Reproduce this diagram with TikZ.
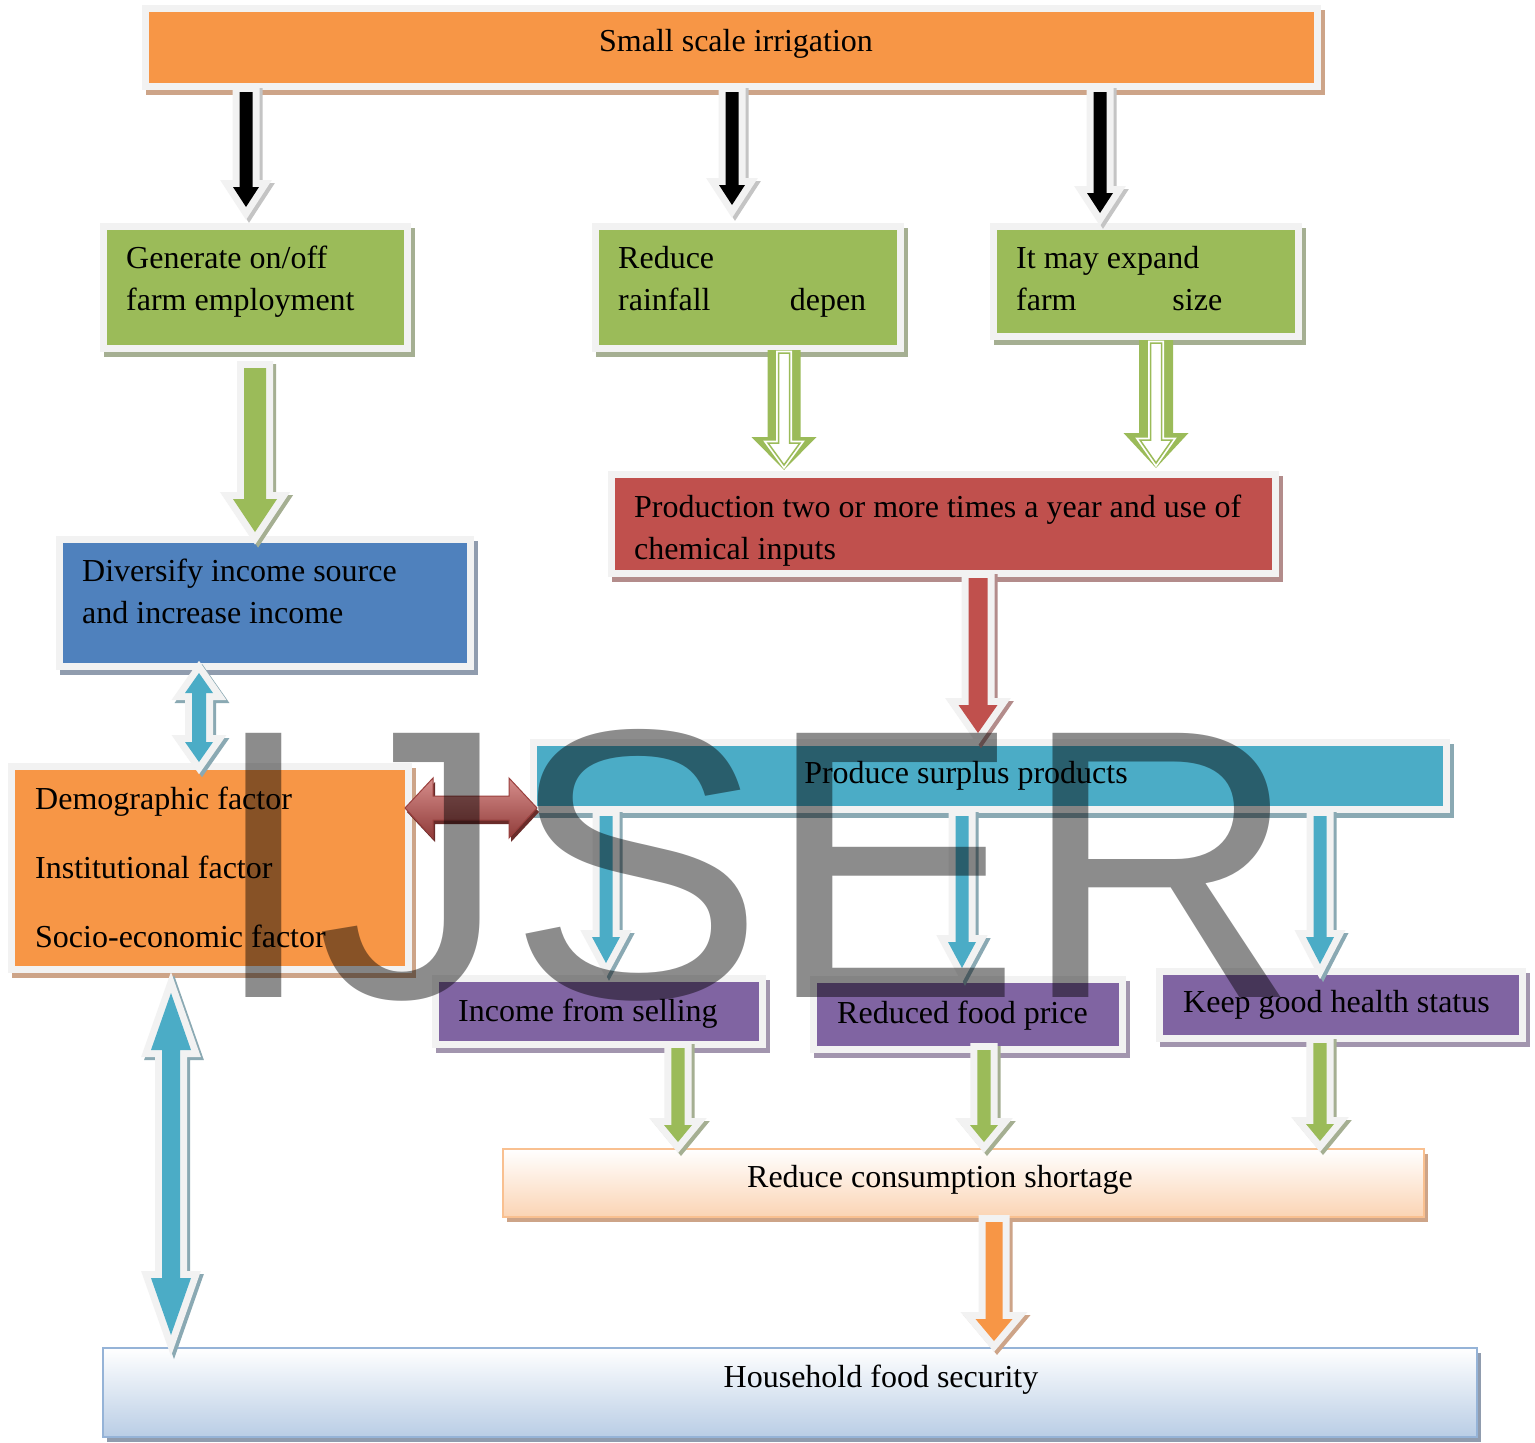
\documentclass[tikz,border=0pt]{standalone}
\usepackage{fontspec}
\setmainfont{Liberation Serif}
\newfontfamily\wmfont{Liberation Sans}
\usetikzlibrary{calc}

\definecolor{cOrange}{HTML}{F79646}
\definecolor{cGreen}{HTML}{9BBB59}
\definecolor{cBlue}{HTML}{4F81BD}
\definecolor{cRed}{HTML}{C0504D}
\definecolor{cAqua}{HTML}{4BACC6}
\definecolor{cPurple}{HTML}{8064A2}
\definecolor{cEdge}{HTML}{F2F2F2}
\definecolor{sOrange}{HTML}{CDA488}
\definecolor{sGreen}{HTML}{A5AF92}
\definecolor{sBlue}{HTML}{909CAE}
\definecolor{sRed}{HTML}{B38C8B}
\definecolor{sAqua}{HTML}{8AA9B3}
\definecolor{sPurple}{HTML}{A295AE}
\definecolor{sBlack}{HTML}{C4C4C4}
\definecolor{peach}{HTML}{FBD4B4}
\definecolor{peachline}{HTML}{F9C090}
\definecolor{sky}{HTML}{B9CDE5}
\definecolor{skyline}{HTML}{95B3D7}
\definecolor{wm}{HTML}{8C8C8C}

\newcommand\blkdown[3][]{%
  \path[#1] let \p1=#2, \p2=#3 in
    (\x1-\arrw,\y1) -- (\x1-\arrw,\y2+\arrl) -- (\x1-\arrh,\y2+\arrl) -- (\x1,\y2)
    -- (\x1+\arrh,\y2+\arrl) -- (\x1+\arrw,\y2+\arrl) -- (\x1+\arrw,\y1) -- cycle;}
\newcommand\blkupdown[3][]{%
  \path[#1] let \p1=#2, \p2=#3 in
    (\x1,\y1) -- (\x1+\arrh,\y1-\arrl) -- (\x1+\arrw,\y1-\arrl) -- (\x1+\arrw,\y2+\arrl)
    -- (\x1+\arrh,\y2+\arrl) -- (\x1,\y2) -- (\x1-\arrh,\y2+\arrl) -- (\x1-\arrw,\y2+\arrl)
    -- (\x1-\arrw,\y1-\arrl) -- (\x1-\arrh,\y1-\arrl) -- cycle;}
\newcommand\blkleftright[3][]{%
  \path[#1] let \p1=#2, \p2=#3 in
    (\x1,\y1) -- (\x1+\arrl,\y1+\arrh) -- (\x1+\arrl,\y1+\arrw) -- (\x2-\arrl,\y1+\arrw)
    -- (\x2-\arrl,\y1+\arrh) -- (\x2,\y1) -- (\x2-\arrl,\y1-\arrh) -- (\x2-\arrl,\y1-\arrw)
    -- (\x1+\arrl,\y1-\arrw) -- (\x1+\arrl,\y1-\arrh) -- cycle;}

\tikzset{
  arrw/.store in=\arrw, arrh/.store in=\arrh, arrl/.store in=\arrl,
  tbox/.style 2 args={rectangle, inner sep=0pt, outer sep=0pt, anchor=north west, fill=#1,
    preaction={fill=#2, draw=#2, line width=14pt, transform canvas={shift={(4pt,-5pt)}}},
    preaction={draw=cEdge, line width=14pt}},
  gbox/.style n args={3}{rectangle, inner sep=0pt, outer sep=0pt, anchor=north west,
    top color=white, bottom color=#1, draw=#2, line width=2.5pt,
    preaction={fill=#3, transform canvas={shift={(4pt,-5pt)}}}},
  barrow/.style 2 args={fill=#1, line join=miter,
    preaction={draw=#2, fill=#2, line width=14pt, line join=miter, transform canvas={shift={(3pt,-3pt)}}},
    preaction={draw=cEdge, line width=14pt, line join=miter}},
  harrowout/.style={fill=cGreen, line join=miter},
  harrowin/.style={fill=white, draw=cGreen, line width=1.5pt, line join=miter,
    preaction={draw=white, line width=5pt, line join=miter}},
  rarrow/.style={top color=cRed!65!white, bottom color=cRed!75!black, draw=cRed!80!black, line width=1pt, line join=miter,
    preaction={fill=cRed!55!black, transform canvas={shift={(2pt,-4pt)}}}},
  txt/.style={anchor=north west, inner sep=0pt, align=left, font=\fontsize{32}{42}\selectfont},
  ltxt/.style={anchor=base west, inner sep=0pt, font=\fontsize{32}{42}\selectfont},
  ctxt/.style={anchor=base, inner sep=0pt, font=\fontsize{32}{42}\selectfont},
}

\begin{document}
\begin{tikzpicture}[x=1pt,y=1pt]
\useasboundingbox (0,0) rectangle (1535,-1443);
\fill[white] (0,0) rectangle (1535,-1443);

% boxes
\node[tbox={cOrange}{sOrange}, minimum width=1165pt, minimum height=71pt] (irr) at (149,-12) {};
\node[tbox={cGreen}{sGreen}, minimum width=297pt, minimum height=115pt] (gen) at (107,-230) {};
\node[tbox={cGreen}{sGreen}, minimum width=298pt, minimum height=115pt] (red) at (599,-230) {};
\node[tbox={cGreen}{sGreen}, minimum width=298pt, minimum height=103pt] (exp) at (997,-230) {};
\node[tbox={cBlue}{sBlue}, minimum width=404pt, minimum height=120pt] (div) at (63,-543) {};
\node[tbox={cRed}{sRed}, minimum width=657pt, minimum height=92pt] (prod) at (615,-478) {};
\node[tbox={cOrange}{sOrange}, minimum width=390pt, minimum height=196pt] (dem) at (15,-770) {};
\node[tbox={cAqua}{sAqua}, minimum width=906pt, minimum height=60pt] (sur) at (537,-746) {};
\node[tbox={cPurple}{sPurple}, minimum width=320pt, minimum height=59pt] (inc) at (439,-982) {};
\node[tbox={cPurple}{sPurple}, minimum width=302pt, minimum height=63pt] (food) at (817,-983) {};
\node[tbox={cPurple}{sPurple}, minimum width=356pt, minimum height=60pt] (keep) at (1163,-975) {};
\node[gbox={peach}{peachline}{sOrange}, minimum width=921pt, minimum height=68pt] (cons) at (503,-1149) {};
\node[gbox={sky}{skyline}{sBlue}, minimum width=1374pt, minimum height=89pt] (hh) at (103,-1348) {};

% black arrows
\blkdown[barrow={black}{sBlack}, arrw=6.5pt, arrh=13pt, arrl=20pt]{($(irr.south -| 246,0)+(0,-9)$)}{($(gen.north -| 246,0)+(0,23)$)}
\blkdown[barrow={black}{sBlack}, arrw=6.5pt, arrh=13pt, arrl=20pt]{($(irr.south -| 732,0)+(0,-9)$)}{($(red.north -| 732,0)+(0,25)$)}
\blkdown[barrow={black}{sBlack}, arrw=6.5pt, arrh=13pt, arrl=20pt]{($(irr.south -| 1100,0)+(0,-9)$)}{($(exp.north -| 1100,0)+(0,17)$)}

% green arrow generate -> diversify
\blkdown[barrow={cGreen}{sGreen}, arrw=11pt, arrh=22pt, arrl=33pt]{($(gen.south -| 255,0)+(0,-23)$)}{($(div.north -| 255,0)+(0,11)$)}

% hollow green arrows
\blkdown[harrowout, arrw=16.5pt, arrh=32.5pt, arrl=33pt]{($(red.south -| 784,0)+(0,-5)$)}{($(prod.north -| 784,0)+(0,8)$)}
\blkdown[harrowin, arrw=5.5pt, arrh=16pt, arrl=22pt]{($(red.south -| 784,0)+(0,-8)$)}{($(prod.north -| 784,0)+(0,13)$)}
\blkdown[harrowout, arrw=17pt, arrh=32.5pt, arrl=35pt]{($(exp.south -| 1156,0)+(0,-7)$)}{($(prod.north -| 1156,0)+(0,10)$)}
\blkdown[harrowin, arrw=5.5pt, arrh=16pt, arrl=23pt]{($(exp.south -| 1156,0)+(0,-10)$)}{($(prod.north -| 1156,0)+(0,15)$)}

% red arrow production -> surplus
\blkdown[barrow={cRed}{sRed}, arrw=9.5pt, arrh=19.5pt, arrl=28pt]{($(prod.south -| 978,0)+(0,-8)$)}{($(sur.north -| 978,0)+(0,13)$)}

% cyan double arrows
\blkupdown[barrow={cAqua}{sAqua}, arrw=7pt, arrh=14pt, arrl=20pt]{($(div.south -| 199,0)+(0,-10)$)}{($(dem.north -| 199,0)+(0,8)$)}
\blkupdown[barrow={cAqua}{sAqua}, arrw=9pt, arrh=20pt, arrl=57pt]{($(dem.south -| 171,0)+(0,-27)$)}{($(hh.north -| 171,0)+(0,13)$)}

% red double horizontal arrow
\blkleftright[rarrow, arrw=12pt, arrh=30pt, arrl=28pt]{(dem.east |- 0,-808)}{(sur.west |- 0,-808)}

% cyan arrows from surplus
\blkdown[barrow={cAqua}{sAqua}, arrw=6.5pt, arrh=14pt, arrl=26pt]{($(sur.south -| 606,0)+(0,-10)$)}{($(inc.north -| 606,0)+(0,19)$)}
\blkdown[barrow={cAqua}{sAqua}, arrw=6.5pt, arrh=14pt, arrl=26pt]{($(sur.south -| 962,0)+(0,-10)$)}{($(food.north -| 962,0)+(0,15)$)}
\blkdown[barrow={cAqua}{sAqua}, arrw=6.5pt, arrh=14pt, arrl=27pt]{($(sur.south -| 1320,0)+(0,-10)$)}{($(keep.north -| 1320,0)+(0,11)$)}

% green arrows to consumption
\blkdown[barrow={cGreen}{sGreen}, arrw=6.7pt, arrh=14pt, arrl=17pt]{($(inc.south -| 678,0)+(0,-7)$)}{($(cons.north -| 678,0)+(0,7)$)}
\blkdown[barrow={cGreen}{sGreen}, arrw=6.7pt, arrh=14pt, arrl=17pt]{($(food.south -| 984,0)+(0,-4)$)}{($(cons.north -| 984,0)+(0,7)$)}
\blkdown[barrow={cGreen}{sGreen}, arrw=6.7pt, arrh=14pt, arrl=17pt]{($(keep.south -| 1320,0)+(0,-8)$)}{($(cons.north -| 1320,0)+(0,8)$)}

% orange arrow to household
\blkdown[barrow={cOrange}{sOrange}, arrw=8.5pt, arrh=18.5pt, arrl=22pt]{($(cons.south -| 994,0)+(0,-5)$)}{($(hh.north -| 994,0)+(0,7)$)}

% texts
\node[ctxt] (tirr) at (736,-51) {Small scale irrigation};
\node[txt] (tgen) at (126,-238.6) {\strut Generate on/off\\\strut farm employment};
\node[txt] (tred) at (618,-238.6) {\strut Reduce\\\hbox to 248pt{\strut rainfall\hfill depen}};
\node[txt] (texp) at (1016,-238.6) {\strut It may expand\\\hbox to 206pt{\strut farm\hfill size}};
\node[txt] (tdiv) at (82,-551.6) {\strut Diversify income source\\\strut and increase income};
\node[txt] (tprod) at (634,-487.6) {\strut Production two or more times a year and use of\\\strut chemical inputs};
\node[txt] (tdem) at (35,-779.6) {\strut Demographic factor\\[27pt]\strut Institutional factor\\[27pt]\strut Socio-economic factor};
\node[ctxt] (tsur) at (966,-783) {Produce surplus products};
\node[ltxt] (tinc) at (458,-1021) {Income from selling};
\node[ltxt] (tfood) at (837,-1023) {Reduced food price};
\node[ltxt] (tkeep) at (1183,-1012) {Keep good health status};
\node[ctxt] (tcons) at (940,-1187) {Reduce consumption shortage};
\node[ctxt] (thh) at (881,-1387) {Household food security};

% watermark
\begin{scope}[blend mode=multiply]
\node[anchor=base west, inner sep=0pt, text=wm, font=\wmfont\fontsize{384}{400}\selectfont] (wmark) at (210,-997) {IJSER};
\end{scope}
\end{tikzpicture}
\end{document}
